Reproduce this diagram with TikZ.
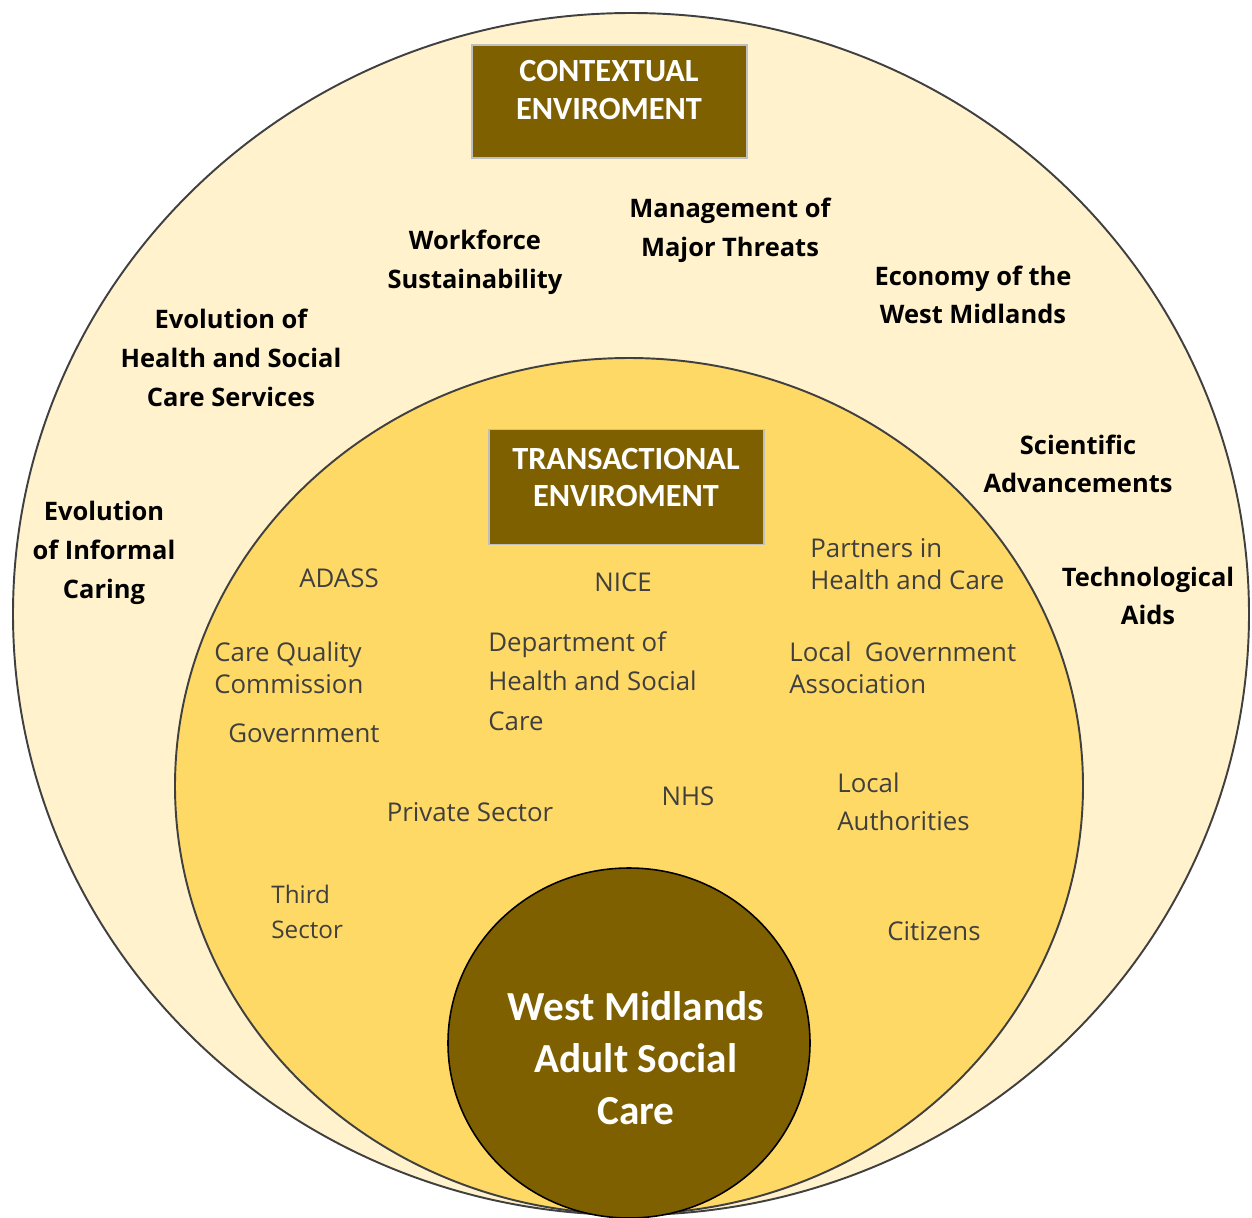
\documentclass[tikz,border=0pt]{standalone}
\usepackage{fontspec}
\setmainfont{Open Sans}
\newfontfamily\boxfont{Carlito}
\definecolor{outerfill}{HTML}{FFF2CC}
\definecolor{innerfill}{HTML}{FFD966}
\definecolor{darkgold}{HTML}{7F6000}
\definecolor{labelgray}{HTML}{3F3F3F}
\tikzset{
  envbox/.style={fill=darkgold,draw=black!25,line width=0.8pt,minimum width=5.5cm},
  envtext/.style={text=white,align=center,font=\boxfont\bfseries\fontsize{18.4}{21.6}\selectfont},
}
\begin{document}
\begin{tikzpicture}[x=0.02cm,y=-0.02cm]
  \useasboundingbox (0,0) rectangle (1252,1218);
  % the three rings
  \draw[fill=outerfill,draw=black!75,line width=1.1pt] (631,614) ellipse [x radius=618, y radius=601];
  \draw[fill=innerfill,draw=black!75,line width=1.1pt] (629,786) ellipse [x radius=454, y radius=428];
  \draw[fill=darkgold,draw=black,line width=0.9pt] (629,1043) ellipse [x radius=181, y radius=175];

  \node[envbox,minimum height=2.26cm] (ctxbox) at (609.5,101.5) {};
  \node[envtext] (ctxtext) at (609,90) {CONTEXTUAL\\ENVIROMENT};
  \node[envbox,minimum height=2.3cm] (trnbox) at (626.5,487) {};
  \node[envtext] (trntext) at (626,477.5) {TRANSACTIONAL\\ENVIROMENT};

  \begin{scope}[every node/.style={align=center,text=black,font=\bfseries\fontsize{14.5}{22}\selectfont}]
    \node (evoinf)   at (104 ,553) {Evolution\\of Informal\\Caring};
    \node (evohsc)   at (231 ,358) {Evolution of\\Health and Social\\Care Services};
    \node (workforce) at (475,262) {Workforce\\Sustainability};
    \node (threats)  at (730 ,230) {Management of\\Major Threats};
    \node (economy)  at (973 ,295) {Economy of the\\West Midlands};
    \node (science)  at (1078,464) {Scientific\\Advancements};
    \node (techaids) at (1148,596) {Technological\\Aids};
  \end{scope}

  \begin{scope}[every node/.style={text=labelgray,inner xsep=0pt,font=\fontsize{14.7}{18.5}\selectfont}]
    \node (adass)     at (339,578) {ADASS};
    \node (nice)      at (623,582) {NICE};
    \node[align=left,anchor=west] (partners) at (810,564) {Partners in\\Health and Care};
    \node[align=left,anchor=west] (cqc) at (214,668) {Care Quality\\Commission};
    \node[align=left,anchor=west,font=\fontsize{14.7}{22.5}\selectfont] (dhsc) at (488,681) {Department of\\Health and Social\\Care};
    \node[align=left,anchor=west] (lga) at (789,668) {Local\ \ Government\\Association};
    \node (govt)      at (304,733) {Government};
    \node (private)   at (470,812) {Private Sector};
    \node (nhs)       at (688,796) {NHS};
    \node[align=left,anchor=west,font=\fontsize{14.7}{21.5}\selectfont] (localauth) at (837,802) {Local\\Authorities};
    \node[align=left,anchor=west,font=\fontsize{13.8}{19.5}\selectfont] (third) at (271,912) {Third\\Sector};
    \node (citizens)  at (934,931) {Citizens};
  \end{scope}

  \node[align=center,text=white,font=\boxfont\bfseries\fontsize{23.5}{29.5}\selectfont] (wmasc) at (636,1058) {West Midlands\\Adult Social\\Care};
\end{tikzpicture}
\end{document}
